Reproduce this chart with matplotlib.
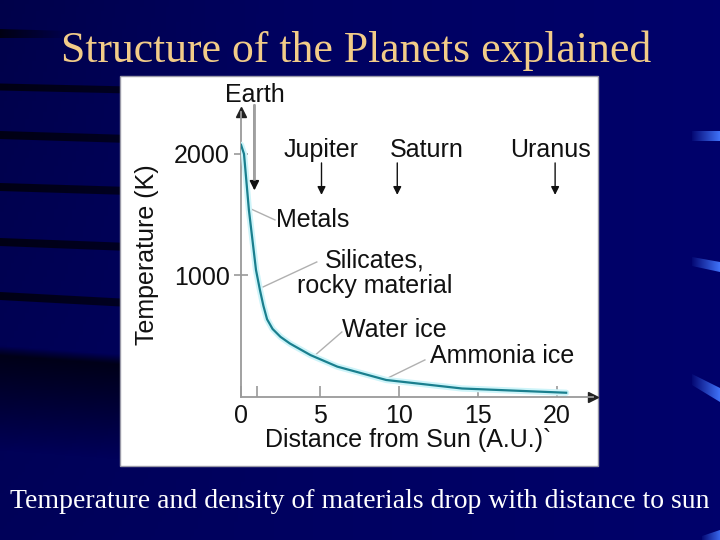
import numpy as np
import matplotlib.pyplot as plt
from matplotlib.patches import Rectangle, Polygon

W, H = 720, 540

# curve: distance from the sun (A.U.) -> temperature (K)
dist_au = [0.0, 0.19, 0.5, 0.95, 1.2, 1.42, 1.65, 2.0, 2.5, 3.1, 4.4, 6.1, 9.2, 14.0, 20.6]
temp_k = [2075, 2000, 1540, 1045, 880, 750, 640, 560, 495, 440, 345, 250, 140, 70, 35]

x_ticks = [0, 1, 5, 10, 15, 20]
x_tick_labels = ['0', '', '5', '10', '15', '20']
y_ticks = [1000, 2000]
y_tick_labels = ['1000', '2000']

earth_au = 0.85
planets = ['Jupiter', 'Saturn', 'Uranus']
planet_au = [5.1, 9.9, 19.9]
planet_text_x = [5.1, 9.4, 19.6]
planet_text_ha = ['center', 'left', 'center']

materials = ['Metals', 'Silicates,', 'rocky material', 'Water ice', 'Ammonia ice']
material_x = [2.2, 8.5, 8.5, 6.4, 12.0]
material_y = [1400, 1062, 856, 494, 280]
material_ha = ['left', 'center', 'center', 'left', 'left']
leader_from = [(0.5, 1555), (1.39, 905), (4.56, 329), (9.3, 156)]
leader_to = [(2.15, 1457), (4.8, 1111), (6.39, 535), (11.65, 305)]

title = 'Structure of the Planets explained'
caption = 'Temperature and density of materials drop with distance to sun'

plt.rcParams['font.family'] = ['Liberation Sans', 'DejaVu Sans']

fig = plt.figure(figsize=(W / 100, H / 100), dpi=100)

# ---- slide background --------------------------------------------------
bg = fig.add_axes([0, 0, 1, 1])
bg.set_xlim(0, W)
bg.set_ylim(H, 0)
bg.axis('off')

gx, gy = np.meshgrid(np.linspace(0, 1, 200), np.linspace(0, 1, 150))
blue = 0.35 + 0.07 * gx - 0.06 * np.clip(1 - gx * 2.5, 0, 1) * (1 - gy)
field = np.dstack([np.zeros_like(blue), np.zeros_like(blue) + 0.005, blue])
bg.imshow(field, extent=(0, W, H, 0), aspect='auto', zorder=0)


def fade_band(x0, x1, y0, y1, rgb, a_left, a_right, clip=None, z=1):
    a = np.linspace(a_left, a_right, 64)
    img = np.zeros((1, 64, 4))
    img[..., :3] = rgb
    img[..., 3] = a
    im = bg.imshow(img, extent=(x0, x1, y1, y0), aspect='auto', zorder=z,
                   interpolation='bilinear')
    if clip is not None:
        poly = Polygon(clip, closed=True, facecolor='none', edgecolor='none')
        bg.add_patch(poly)
        im.set_clip_path(poly)


# dark streaks on the left
for yl, yr, th in [(87, 90, 7), (135, 139, 8), (187, 191, 8), (242, 247, 8), (296, 303, 8)]:
    pts = [(0, yl - th / 2), (130, yr - th / 2), (130, yr + th / 2), (0, yl + th / 2)]
    fade_band(0, 130, yl - 10, yr + 10, (0, 0, 0.02), 0.8, 0.65, clip=pts)
fade_band(0, 70, 28, 40, (0, 0, 0.02), 0.8, 0.0,
          clip=[(0, 29), (70, 31), (70, 38), (0, 38)])

# dark lower-left region
ys = np.linspace(0, 1, 80)[:, None]
xs = np.linspace(0, 1, 40)[None, :]
top = 0.02 + 0.08 * xs
dark = np.clip((ys - top) * 12, 0, 1) * np.clip(1 - (ys - top) * 1.1, 0, 1) * 0.85
img = np.zeros((80, 40, 4))
img[..., 2] = 0.02
img[..., 3] = dark
bg.imshow(img, extent=(0, 130, 460, 343), aspect='auto', zorder=1, interpolation='bilinear')

# bright streaks on the right
light = (0.25, 0.45, 0.98)
fade_band(690, 720, 128, 144, light, 0.0, 1.0, clip=[(692, 131), (720, 131), (720, 141), (692, 141)], z=2)
fade_band(690, 720, 254, 275, light, 0.0, 1.0, clip=[(692, 257), (720, 262), (720, 272), (692, 266)], z=2)
fade_band(690, 720, 370, 405, light, 0.0, 1.0, clip=[(692, 374), (720, 388), (720, 402), (692, 385)], z=2)
fade_band(700, 720, 528, 540, light, 0.0, 0.9, clip=[(702, 536), (720, 530), (720, 540), (702, 540)], z=2)

# white panel holding the chart
bg.add_patch(Rectangle((120, 76), 478, 390, facecolor='white', edgecolor='#9a9aa8',
                       linewidth=1.0, zorder=3))

fig.text(0.494, 1 - 62 / H, title, family=['Liberation Serif', 'DejaVu Serif'],
         fontsize=31.5, color='#f2cc88', ha='center', va='baseline')
fig.text(0.5, 1 - 508 / H, caption, family=['Liberation Serif', 'DejaVu Serif'],
         fontsize=20, color='white', ha='center', va='baseline')

# ---- the chart itself ----------------------------------------------------
xmax, ymax = 22.3, 2345
ax = fig.add_axes([241 / W, (H - 397) / H, 352 / W, 285 / H])
ax.set_facecolor('none')
ax.set_xlim(0, xmax)
ax.set_ylim(0, ymax)
for s in ['top', 'right']:
    ax.spines[s].set_visible(False)
for s in ['left', 'bottom']:
    ax.spines[s].set_color('#9a9a9a')
    ax.spines[s].set_linewidth(1.3)
ax.plot([xmax], [0], marker='>', color='#222222', ms=7, clip_on=False)
ax.plot([0], [ymax], marker='^', color='#222222', ms=7, clip_on=False)

ax.set_xticks(x_ticks)
ax.set_xticklabels(x_tick_labels)
ax.set_yticks(y_ticks)
ax.set_yticklabels(y_tick_labels)
ax.tick_params(axis='x', direction='in', length=8, width=1.2, color='#9a9a9a',
               labelsize=18, pad=5, labelcolor='#111111')
ax.tick_params(axis='y', direction='inout', length=10, width=1.2, color='#9a9a9a',
               labelsize=18, pad=3, labelcolor='#111111')

ax.set_ylabel('Temperature (K)', fontsize=18, labelpad=11, color='#111111')
ax.set_xlabel('Distance from Sun (A.U.)`', fontsize=18, color='#111111')
ax.xaxis.set_label_coords(0.474, -0.11)

# temperature curve: soft cyan glow under a dark teal line
ax.plot(dist_au, temp_k, color='#cdf4f9', lw=4.5, solid_capstyle='round', zorder=3)
ax.plot(dist_au, temp_k, color='#1a7f8e', lw=1.6, zorder=4)

# Earth marker
ax.text(earth_au, 2428, 'Earth', fontsize=18, ha='center', va='baseline',
        color='#111111', clip_on=False)
ax.annotate('', xy=(earth_au, 1700), xytext=(earth_au, 2400),
            arrowprops=dict(arrowstyle='-|>', color='#111111', lw=1.2, mutation_scale=14,
                            shrinkA=0, shrinkB=0), annotation_clip=False)
ax.plot([earth_au, earth_au], [2400, 1790], color='#a0a0a0', lw=1.8, clip_on=False, zorder=5)

# outer planets
for name, au, tx, ha in zip(planets, planet_au, planet_text_x, planet_text_ha):
    ax.text(tx, 1975, name, fontsize=18, ha=ha, va='baseline', color='#111111')
    ax.annotate('', xy=(au, 1663), xytext=(au, 1926),
                arrowprops=dict(arrowstyle='-|>', color='#111111', lw=1.0,
                                mutation_scale=12, shrinkA=0, shrinkB=0))

# material condensation labels
for name, tx, ty, ha in zip(materials, material_x, material_y, material_ha):
    ax.text(tx, ty, name, fontsize=18, ha=ha, va='baseline', color='#111111')
for p0, p1 in zip(leader_from, leader_to):
    ax.plot([p0[0], p1[0]], [p0[1], p1[1]], color='#b0b0b0', lw=1.0, zorder=2)

fig.savefig('out.png', dpi=100)
